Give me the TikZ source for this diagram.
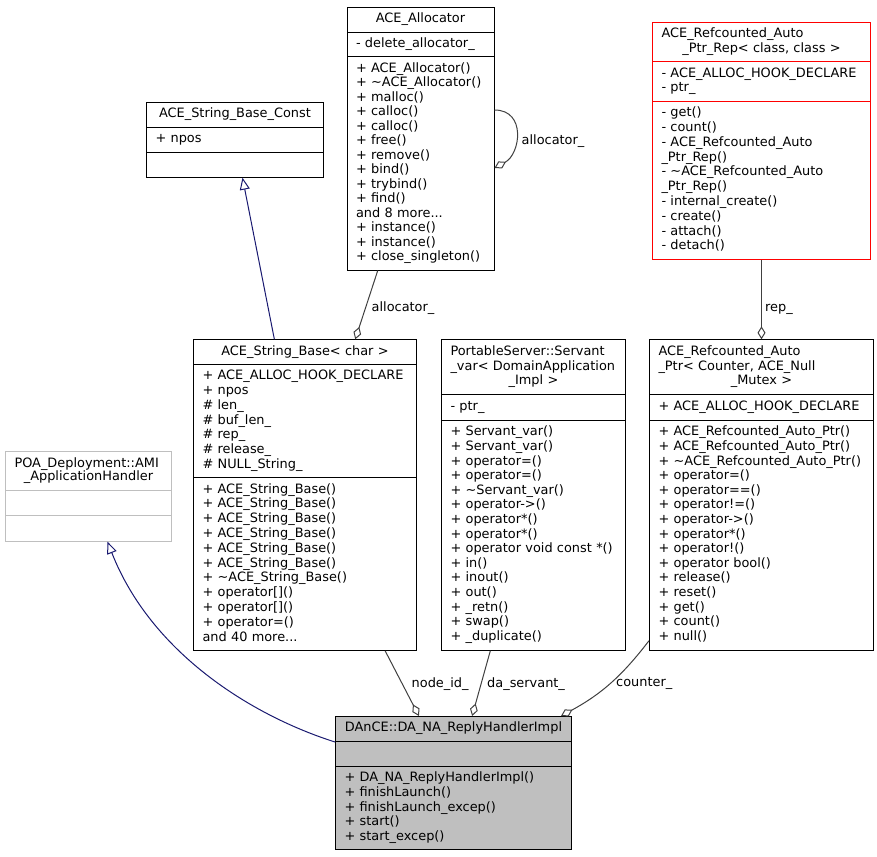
\documentclass[tikz,border=0pt]{standalone}
\usepackage{fontspec}
\setmainfont{DejaVu Sans}
\usetikzlibrary{shapes.multipart,arrows.meta}

\definecolor{edgegray}{HTML}{404040}
\definecolor{inhblue}{HTML}{191970}
\definecolor{boxgray}{HTML}{BFBFBF}
\definecolor{tplred}{HTML}{FF0000}

\newcommand{\midline}[1]{\makebox[\linewidth]{\strut #1}}

\tikzset{
  cls/.style={rectangle split, rectangle split parts=3, draw, line width=1pt,
    anchor=north west, align=left, inner xsep=9pt, inner ysep=5pt,
    font={\fontsize{12.9}{#1}\selectfont\lineskiplimit=-50pt}},
  cls/.default=14.6,
  member/.style={draw=edgegray, line width=1pt, -{Diamond[open, length=13pt, width=8pt]}},
  base/.style={draw=inhblue, line width=1pt, -{Triangle[open, length=12pt, width=10pt]}},
  lbl/.style={anchor=base west, inner sep=0pt, font=\fontsize{12.9}{14}\selectfont},
}

\begin{document}
\begin{tikzpicture}[x=1pt, y=-1pt]
    \useasboundingbox (0, 0) rectangle (877, 856);
    \path (346.5,   7) node [cls=14.5, inner ysep=4.6pt, text width=129pt] (alloc)
        {\midline{ACE\_Allocator}
         \nodepart{two}\strut - delete\_allocator\_\strut
         \nodepart{three}\strut + ACE\_Allocator()\\+ \textasciitilde ACE\_Allocator()\\+ malloc()\\+ calloc()\\+ calloc()\\+ free()\\+ remove()\\+ bind()\\+ trybind()\\+ find()\\and 8 more...\\+ instance()\\+ instance()\\+ close\_singleton()\strut};
    \path (652,  21.7) node [cls=14.8, inner ysep=4.5pt, text width=200pt, draw=tplred] (refrep)
        {\strut ACE\_Refcounted\_Auto\par\midline{\_Ptr\_Rep< class, class >}
         \nodepart{two}\strut - ACE\_ALLOC\_HOOK\_DECLARE\\- ptr\_\strut
         \nodepart{three}\strut - get()\\- count()\\- ACE\_Refcounted\_Auto\\\_Ptr\_Rep()\\- \textasciitilde ACE\_Refcounted\_Auto\\\_Ptr\_Rep()\\- internal\_create()\\- create()\\- attach()\\- detach()\strut};
    \path (146, 101.7) node [cls=14, inner ysep=5pt, text width=159pt] (strconst)
        {\midline{ACE\_String\_Base\_Const}
         \nodepart{two}\strut + npos\strut
         \nodepart{three}\strut};
    \path (193, 339.3) node [cls=14.8, inner ysep=4.4pt, text width=205pt] (strbase)
        {\midline{ACE\_String\_Base< char >}
         \nodepart{two}\strut + ACE\_ALLOC\_HOOK\_DECLARE\\+ npos\\\# len\_\\\# buf\_len\_\\\# rep\_\\\# release\_\\\# NULL\_String\_\strut
         \nodepart{three}\strut + ACE\_String\_Base()\\+ ACE\_String\_Base()\\+ ACE\_String\_Base()\\+ ACE\_String\_Base()\\+ ACE\_String\_Base()\\+ ACE\_String\_Base()\\+ \textasciitilde ACE\_String\_Base()\\+ operator[]()\\+ operator[]()\\+ operator=()\\and 40 more...\strut};
    \path (441, 339.3) node [cls, text width=166pt] (servant)
        {\strut PortableServer::Servant\par\_var< DomainApplication\par\midline{\_Impl >}
         \nodepart{two}\strut - ptr\_\strut
         \nodepart{three}\strut + Servant\_var()\\+ Servant\_var()\\+ operator=()\\+ operator=()\\+ \textasciitilde Servant\_var()\\+ operator->()\\+ operator*()\\+ operator*()\\+ operator void const *()\\+ in()\\+ inout()\\+ out()\\+ \_retn()\\+ swap()\\+ \_duplicate()\strut};
    \path (649, 339.3) node [cls, text width=206pt] (autoptr)
        {\strut ACE\_Refcounted\_Auto\par\_Ptr< Counter, ACE\_Null\par\midline{\_Mutex >}
         \nodepart{two}\strut + ACE\_ALLOC\_HOOK\_DECLARE\strut
         \nodepart{three}\strut + ACE\_Refcounted\_Auto\_Ptr()\\+ ACE\_Refcounted\_Auto\_Ptr()\\+ \textasciitilde ACE\_Refcounted\_Auto\_Ptr()\\+ operator=()\\+ operator==()\\+ operator!=()\\+ operator->()\\+ operator*()\\+ operator!()\\+ operator bool()\\+ release()\\+ reset()\\+ get()\\+ count()\\+ null()\strut};
    \path (5, 451) node [cls=13.3, inner ysep=5.5pt, text width=148pt, draw=boxgray] (poa)
        {\strut POA\_Deployment::AMI\par\midline{\_ApplicationHandler}
         \nodepart{two}\strut
         \nodepart{three}\strut};
    \path (335, 716) node [cls, inner ysep=4.7pt, text width=218pt, fill=boxgray] (dance)
        {\midline{DAnCE::DA\_NA\_ReplyHandlerImpl}
         \nodepart{two}\strut
         \nodepart{three}\strut + DA\_NA\_ReplyHandlerImpl()\\+ finishLaunch()\\+ finishLaunch\_excep()\\+ start()\\+ start\_excep()\strut};
    \draw [base] (strbase) -- (strconst);
    \draw [base] ([yshift=-26pt]dance.north west) .. controls +(-85, -27) and +(43, 110) .. ([xshift=19pt]poa.south);
    \draw [member] ([yshift=-103pt]alloc.north east) .. controls +(32, 0) and +(26, -14) .. ([yshift=-161pt]alloc.north east);
    \path (521.5, 144) node [lbl] (selflbl) {allocator\_};
    \draw [member] (alloc) -- (strbase);
    \path (371.5, 311) node [lbl] (alloclbl) {allocator\_};
    \draw [member] (refrep) -- (autoptr);
    \path (765, 311) node [lbl] (replbl) {rep\_};
    \draw [member] (strbase) -- (dance);
    \path (411.5, 687) node [lbl] (nodelbl) {node\_id\_};
    \draw [member] (servant) -- (dance);
    \path (487, 687) node [lbl] (servantlbl) {da\_servant\_};
    \draw [member] ([yshift=10pt]autoptr.south west) to [bend left=12] ([xshift=-11pt]dance.north east);
    \path (616, 686) node [lbl] (counterlbl) {counter\_};
\end{tikzpicture}
\end{document}
